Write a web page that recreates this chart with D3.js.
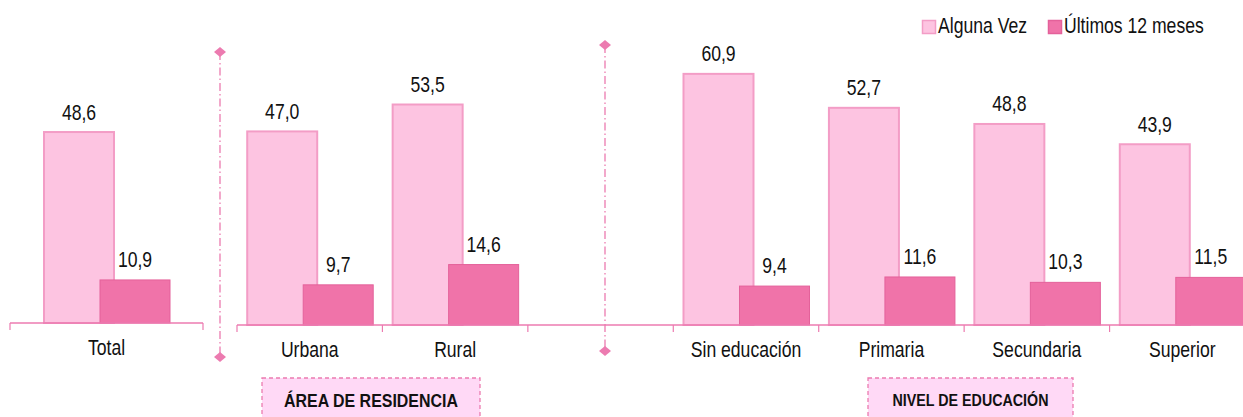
<!DOCTYPE html>
<html><head><meta charset="utf-8">
<script src="https://cdn.jsdelivr.net/npm/d3@7"></script>
<style>
body{margin:0;background:#fff;}
text{font-family:"Liberation Sans",Arial,sans-serif;}
</style></head>
<body><svg id="c" width="1243" height="417"></svg>
<script>
const panel1Cats = ["Total"];
const panel2Cats = ["Urbana","Rural","gap","Sin educación","Primaria","Secundaria","Superior"];
const alguna1 = [48.6];
const ultimos1 = [10.9];
const alguna2 = [47.0, 53.5, null, 60.9, 52.7, 48.8, 43.9];
const ultimos2 = [9.7, 14.6, null, 9.4, 11.6, 10.3, 11.5];
const seriesNames = ["Alguna Vez","Últimos 12 meses"];
const groupLabels = ["ÁREA DE RESIDENCIA","NIVEL DE EDUCACIÓN"];

const C_A = "#fdc4e1", C_A_S = "#f39dc6", C_U = "#f073a9", C_U_S = "#e4619a", C_AX = "#ec7bb0";
const NARROW = 0.8;
const svg = d3.select("#c");
const fmt = v => v.toFixed(1).replace(".", ",");

function place(sel, fx, fy, sx) {
  sel.attr("transform", d => `translate(${fx(d)},${fy(d)}) scale(${sx||NARROW},1)`);
}

function panel(cats, alg, ult, x, y, base) {
  const g = svg.append("g");
  const data = cats.map((c,i)=>({c, a:alg[i], u:ult[i]})).filter(d=>d.a!=null);
  const bw = x.bandwidth();
  const cx = d => x(d.c) + bw/2;
  g.selectAll("rect.a").data(data).join("rect")
    .attr("x", d=>cx(d)-63.5+1).attr("y", d=>y(d.a)+1)
    .attr("width", 70).attr("height", d=>base-y(d.a)-1)
    .attr("fill", C_A).attr("stroke", C_A_S).attr("stroke-width", 2);
  g.selectAll("rect.u").data(data).join("rect")
    .attr("x", d=>cx(d)-6.5).attr("y", d=>y(d.u))
    .attr("width", 70).attr("height", d=>base-y(d.u))
    .attr("fill", C_U).attr("stroke", C_U_S).attr("stroke-width", 1);
  g.selectAll("text.a").data(data).join("text")
    .attr("text-anchor","middle").attr("font-size",22).attr("fill","#111")
    .call(place, d=>cx(d)-27.5, d=>y(d.a)-11.5)
    .text(d=>fmt(d.a));
  g.selectAll("text.u").data(data).join("text")
    .attr("text-anchor","middle").attr("font-size",22).attr("fill","#111")
    .call(place, d=>cx(d)+28.5, d=>y(d.u)-13)
    .text(d=>fmt(d.u));
  const r = x.range();
  g.append("line").attr("x1", r[0]).attr("x2", r[1]).attr("y1", base).attr("y2", base)
    .attr("stroke", C_AX).attr("stroke-width", 1.5);
  const ticks = cats.map(c=>x(c)).concat([r[1]]);
  g.selectAll("line.t").data(ticks).join("line")
    .attr("x1", d=>d).attr("x2", d=>d).attr("y1", base).attr("y2", base+7)
    .attr("stroke", C_AX).attr("stroke-width", 1.2);
  const ax = g.append("g").attr("transform", `translate(0,${base})`)
    .call(d3.axisBottom(x).tickSize(0).tickPadding(0).tickFormat(d=>d==="gap"?"":d));
  ax.select(".domain").remove();
  ax.selectAll("text").attr("font-size",22).attr("fill","#111")
    .attr("font-family",'"Liberation Sans",Arial,sans-serif').attr("y", null).attr("dy", null)
    .attr("transform", `translate(0,32) scale(${NARROW},1)`);
}

const x1 = d3.scaleBand().domain(panel1Cats).range([10, 203]);
const y1 = d3.scaleLinear().domain([0, 50]).range([323, 323 - 50*3.95]);
panel(panel1Cats, alguna1, ultimos1, x1, y1, 323);

const x2 = d3.scaleBand().domain(panel2Cats).range([237, 1255]);
const y2 = d3.scaleLinear().domain([0, 60]).range([325, 325 - 60*4.14]);
panel(panel2Cats, alguna2, ultimos2, x2, y2, 325);

function divider(x, yt, yb) {
  svg.append("line").attr("x1",x).attr("x2",x).attr("y1",yt).attr("y2",yb)
    .attr("stroke", C_AX).attr("stroke-width",1.3).attr("stroke-dasharray","8,3,1.5,3");
  [yt,yb].forEach(yy=>svg.append("path").attr("d", "M-6,0L0,-5L6,0L0,5Z")
    .attr("transform", `translate(${x},${yy})`).attr("fill", C_AX));
}
divider(220, 52, 357);
divider(605, 45, 351);

const boxes = [{x:262, w:218, t:groupLabels[0], fs:19, by:406.5}, {x:868, w:205, t:groupLabels[1], fs:17, by:405.5}];
boxes.forEach(b=>{
  svg.append("rect").attr("x", b.x).attr("y", 378).attr("width", b.w).attr("height", 45)
    .attr("fill", "#ffd9f6").attr("stroke", C_AX).attr("stroke-width",1.3).attr("stroke-dasharray","4,3");
  svg.append("text").datum(b)
    .attr("text-anchor","middle").attr("font-weight","bold").attr("font-size", b.fs)
    .attr("fill","#111").call(place, d=>d.x + d.w/2, d=>d.by, 0.84).text(b.t);
});

const leg = [{x:922, c:C_A, s:C_A_S}, {x:1048, c:C_U, s:C_U_S}];
leg.forEach((l,i)=>{
  svg.append("rect").attr("x", l.x+0.5).attr("y", 20.5).attr("width", 13).attr("height", 13)
    .attr("fill", l.c).attr("stroke", l.s).attr("stroke-width", 1.5);
  svg.append("text").datum(l)
    .attr("font-size",22).attr("fill","#111")
    .call(place, d=>d.x + 16, ()=>33).text(seriesNames[i]);
});
</script></body></html>
